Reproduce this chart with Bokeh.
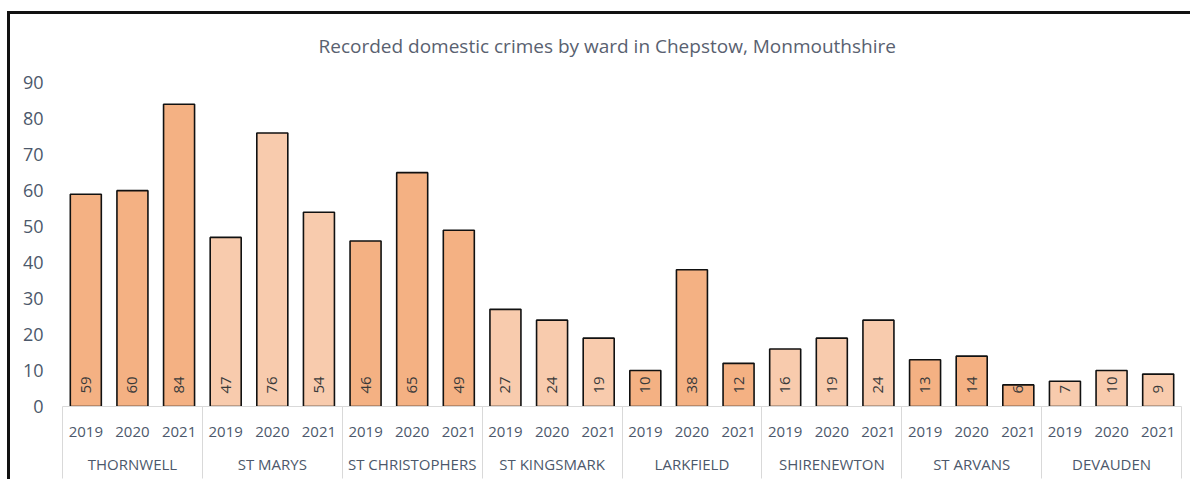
import math
from bokeh.plotting import figure
from bokeh.models import ColumnDataSource, FixedTicker, LinearAxis, Range1d
from bokeh.core.properties import value
from bokeh.embed import file_html
from bokeh.resources import INLINE

# ---- data ----
wards = ["THORNWELL", "ST MARYS", "ST CHRISTOPHERS", "ST KINGSMARK",
         "LARKFIELD", "SHIRENEWTON", "ST ARVANS", "DEVAUDEN"]
years = ["2019", "2020", "2021"]
crimes_2019 = [59, 47, 46, 27, 10, 16, 13, 7]
crimes_2020 = [60, 76, 65, 24, 38, 19, 14, 10]
crimes_2021 = [84, 54, 49, 19, 12, 24, 6, 9]
ward_shades = ["#F4B183", "#F8CBAD", "#F4B183", "#F8CBAD",
               "#F4B183", "#F8CBAD", "#F4B183", "#F8CBAD"]
y_ticks = [0, 10, 20, 30, 40, 50, 60, 70, 80, 90]
title_text = "Recorded domestic crimes by ward in Chepstow, Monmouthshire"

series = [crimes_2019, crimes_2020, crimes_2021]
ny = len(years)
xs, tops, colors, labels = [], [], [], []
year_overrides = {}
ward_overrides = {}
for i, w in enumerate(wards):
    ward_overrides[i * ny + ny / 2] = w
    for j, yr in enumerate(years):
        x = i * ny + j + 0.5
        xs.append(x)
        tops.append(series[j][i])
        colors.append(ward_shades[i])
        labels.append(str(series[j][i]))
        year_overrides[x] = yr
n = len(wards) * ny
bounds = [i * ny for i in range(len(wards) + 1)]

src = ColumnDataSource(dict(x=xs, top=tops, color=colors, label=labels))

FONT = "Open Sans"
TXT = "#4C586B"

p = figure(width=1183, height=468, x_range=Range1d(0, n), y_range=Range1d(0, 92),
           output_backend="svg", toolbar_location=None,
           min_border_left=52, min_border_right=12, min_border_top=60,
           min_border_bottom=76)
p.margin = (11, 0, 0, 7)
p.styles = {"border-left": "3px solid #111111", "border-top": "3px solid #111111"}
p.outline_line_color = None
p.xgrid.visible = False
p.ygrid.visible = False

p.title.text = title_text
p.title.align = "left"
p.title.offset = 256
p.title.text_font = FONT
p.title.text_font_size = "19px"
p.title.text_font_style = "normal"
p.title.text_color = "#596170"
p.title.standoff = 33

p.vbar(x="x", top="top", width=0.665, fill_color="color", line_color="#111111",
       line_width=1.6, source=src)
p.text(x="x", y=0, text="label", angle=math.pi / 2, text_align="left",
       text_baseline="middle", y_offset=-13, text_font=value(FONT),
       text_font_size="15px", text_color="#3A3A3A", source=src)

ya = p.yaxis[0]
ya.ticker = FixedTicker(ticks=y_ticks)
ya.axis_line_color = None
ya.major_tick_line_color = None
ya.minor_tick_line_color = None
ya.major_tick_out = 0
ya.major_label_text_font = FONT
ya.major_label_text_font_size = "18px"
ya.major_label_text_color = TXT
ya.major_label_standoff = 19

xa = p.xaxis[0]
xa.ticker = FixedTicker(ticks=xs, minor_ticks=bounds)
xa.major_label_overrides = year_overrides
xa.axis_line_color = "#D9D9D9"
xa.major_tick_line_color = None
xa.minor_tick_line_color = "#D9D9D9"
xa.minor_tick_in = -72
xa.minor_tick_out = 0
xa.major_tick_out = 0
xa.major_label_standoff = 20
xa.major_label_text_font = FONT
xa.major_label_text_font_size = "15px"
xa.major_label_text_color = TXT

xa2 = LinearAxis(ticker=FixedTicker(ticks=list(ward_overrides.keys())),
                 major_label_overrides=ward_overrides)
xa2.axis_line_color = None
xa2.major_tick_line_color = None
xa2.minor_tick_line_color = None
xa2.major_tick_out = 0
xa2.major_label_standoff = 14
xa2.major_label_text_font = FONT
xa2.major_label_text_font_size = "15px"
xa2.major_label_text_color = TXT
p.add_layout(xa2, "below")

open("out.html", "w").write(file_html(p, INLINE))
